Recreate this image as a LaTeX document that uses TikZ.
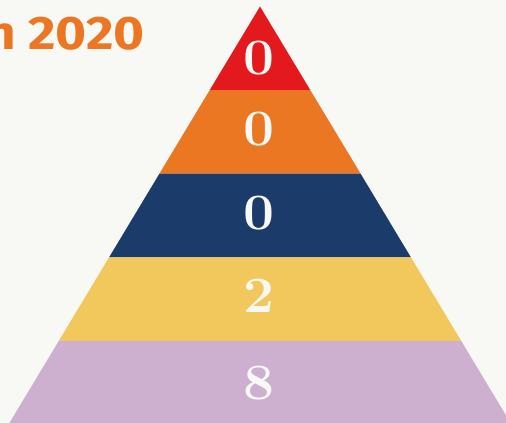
\documentclass[tikz,border=0pt]{standalone}
\usepackage{fontspec}
\newfontfamily\headfont{Fira Sans}
\definecolor{bg}{HTML}{F8F8F4}
\definecolor{pyred}{HTML}{E3191E}
\definecolor{pyorange}{HTML}{EC7723}
\definecolor{pyblue}{HTML}{1B3C6B}
\definecolor{pyyellow}{HTML}{F2C85C}
\definecolor{pypurple}{HTML}{CDB0D0}
\begin{document}
\begin{tikzpicture}[x=1pt,y=-1pt]
\tikzstyle{digit} = [inner sep=0pt, text=bg, xscale=1.08, font=\fontsize{51}{51}\selectfont\bfseries]
\tikzstyle{heading} = [inner sep=0pt, text=pyorange, xscale=1.13, font=\headfont\fontsize{47}{47}\selectfont\bfseries]
\useasboundingbox (0,0) rectangle (506,423);
\fill[bg] (0,0) rectangle (506,423);
% pyramid bands, apex at (260,6.5)
\foreach \i/\col in {0/pyred,1/pyorange,2/pyblue,3/pyyellow,4/pypurple} {
  \fill[\col] ({260-50.3*\i},{6.5+83.6*\i}) -- ({260+50.3*\i},{6.5+83.6*\i})
    -- ({260+50.3*(\i+1)},{6.5+83.6*(\i+1)}) -- ({260-50.3*(\i+1)},{6.5+83.6*(\i+1)}) -- cycle;
}
\node (d1) [digit] at (259,58.5) {0};
\node (d2) [digit] at (259,129) {0};
\node (d3) [digit] at (259,213.5) {0};
\node (d4) [digit] at (259,296) {2};
\node (d5) [digit] at (259,383) {8};
\node (title) [heading, anchor=base east] at (145,49.3) {n 2020};
\end{tikzpicture}
\end{document}
